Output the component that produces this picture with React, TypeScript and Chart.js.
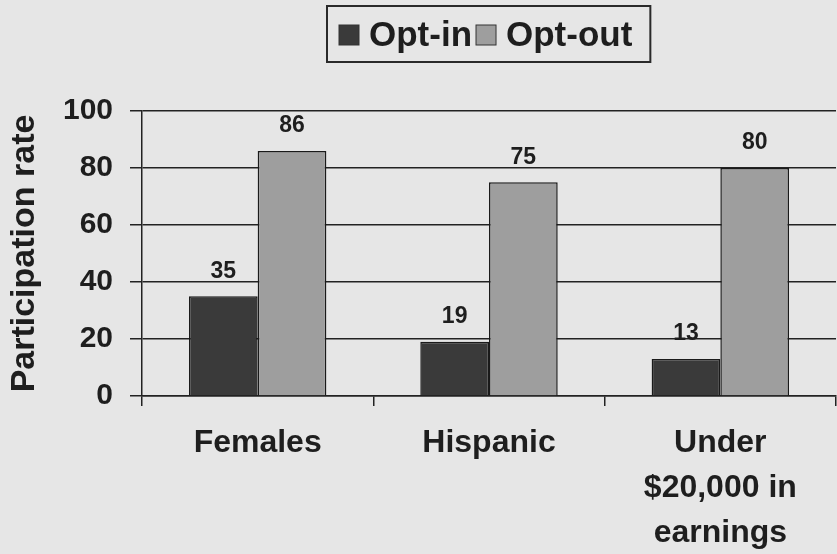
import React, { useEffect, useRef } from "react";
import { Chart, registerables } from "chart.js";

Chart.register(...registerables);

const categories: (string | string[])[] = ["Females", "Hispanic", ["Under", "$20,000 in", "earnings"]];
const seriesLabels = ["Opt-in", "Opt-out"];
const optIn = [35, 19, 13];
const optOut = [86, 75, 80];
const yMin = 0;
const yMax = 100;
const yStep = 20;
const yTitle = "Participation rate";

const FONT = '"Liberation Sans", Arial, Helvetica, sans-serif';
const INK = "#1e1e1e";
const BG = "#e6e6e6";
const COLOR_IN = "#3a3a3a";
const COLOR_OUT = "#9e9e9e";

const bgPlugin = {
  id: "bgFill",
  beforeDraw(chart: any) {
    const ctx = chart.ctx;
    ctx.save();
    ctx.fillStyle = BG;
    ctx.fillRect(0, 0, chart.width, chart.height);
    ctx.restore();
  },
};

const legendPlugin = {
  id: "boxLegend",
  afterDraw(chart: any) {
    const ctx = chart.ctx;
    ctx.save();
    ctx.font = `bold 35px ${FONT}`;
    const items = chart.data.datasets.map((ds: any) => ({
      label: ds.label as string,
      color: ds.backgroundColor as string,
      w: ctx.measureText(ds.label).width,
    }));
    const sq = 20, gapText = 10, gapItem = 4, padL = 12, padR = 18;
    let total = padL + padR;
    items.forEach((it: any, i: number) => {
      total += sq + gapText + it.w + (i > 0 ? gapItem : 0);
    });
    const cx = (chart.chartArea.left + chart.chartArea.right) / 2;
    const left = Math.round(cx - total / 2);
    const top = 6;
    const h = 56;
    ctx.strokeStyle = "#2a2a2a";
    ctx.lineWidth = 2;
    ctx.strokeRect(left, top, total, h);
    let x = left + padL;
    const cy = top + h / 2 + 1;
    items.forEach((it: any) => {
      ctx.fillStyle = it.color;
      ctx.fillRect(x, cy - sq / 2, sq, sq);
      ctx.lineWidth = 1;
      ctx.strokeStyle = "#333";
      ctx.strokeRect(x, cy - sq / 2, sq, sq);
      x += sq + gapText;
      ctx.fillStyle = INK;
      ctx.textAlign = "left";
      ctx.textBaseline = "middle";
      ctx.fillText(it.label, x, cy + 1);
      x += it.w + gapItem;
    });
    ctx.restore();
  },
};

const valueLabelPlugin = {
  id: "valueLabels",
  afterDatasetsDraw(chart: any) {
    const ctx = chart.ctx;
    ctx.save();
    ctx.font = `bold 23px ${FONT}`;
    ctx.fillStyle = INK;
    ctx.textAlign = "center";
    ctx.textBaseline = "middle";
    chart.data.datasets.forEach((ds: any, i: number) => {
      const meta = chart.getDatasetMeta(i);
      meta.data.forEach((el: any, j: number) => {
        ctx.fillText(String(ds.data[j]), el.x, el.y - 25);
      });
    });
    ctx.restore();
  },
};

export default function App() {
  const ref = useRef<HTMLCanvasElement | null>(null);
  useEffect(() => {
    if (!ref.current) return;
    const chart = new Chart(ref.current, {
      type: "bar",
      data: {
        labels: categories as any,
        datasets: [
          {
            label: seriesLabels[0],
            data: optIn,
            backgroundColor: COLOR_IN,
            borderColor: "#1a1a1a",
            borderWidth: 1.5,
            categoryPercentage: 0.594,
            barPercentage: 1.0,
          },
          {
            label: seriesLabels[1],
            data: optOut,
            backgroundColor: COLOR_OUT,
            borderColor: "#1a1a1a",
            borderWidth: 1.5,
            categoryPercentage: 0.594,
            barPercentage: 1.0,
          },
        ],
      },
      options: {
        responsive: false,
        animation: false,
        layout: { padding: { top: 111, right: 1, left: 0, bottom: 0 } },
        plugins: {
          legend: { display: false },
          tooltip: { enabled: false },
          title: { display: false },
        },
        scales: {
          x: {
            grid: {
              drawOnChartArea: false,
              offset: true,
              tickLength: 10,
              color: "#222",
              lineWidth: 1.5,
            },
            border: { color: "#222", width: 1.5 },
            ticks: {
              font: { family: FONT, size: 32, weight: "bold", lineHeight: 1.4 },
              color: INK,
              padding: 15,
              maxRotation: 0,
              autoSkip: false,
            },
            afterFit: (s: any) => {
              s.height = 158;
              s.paddingLeft = 0;
              s.paddingRight = 0;
            },
          },
          y: {
            min: yMin,
            max: yMax,
            ticks: {
              stepSize: yStep,
              font: { family: FONT, size: 30, weight: "bold" },
              color: INK,
              padding: 17,
            },
            grid: { color: "#222", lineWidth: 1.5, tickLength: 12 },
            border: { color: "#222", width: 1.5 },
            title: {
              display: true,
              text: yTitle,
              font: { family: FONT, size: 34, weight: "bold" },
              color: INK,
              padding: { top: 4, bottom: 0 },
            },
            afterFit: (s: any) => {
              s.width = 142;
            },
          },
        },
      } as any,
      plugins: [bgPlugin, legendPlugin, valueLabelPlugin],
    });
    return () => chart.destroy();
  }, []);
  return (
    <div style={{ position: "fixed", left: 0, top: 0, width: 837, height: 554, background: BG }}>
      <canvas ref={ref} width={837} height={554} />
    </div>
  );
}
